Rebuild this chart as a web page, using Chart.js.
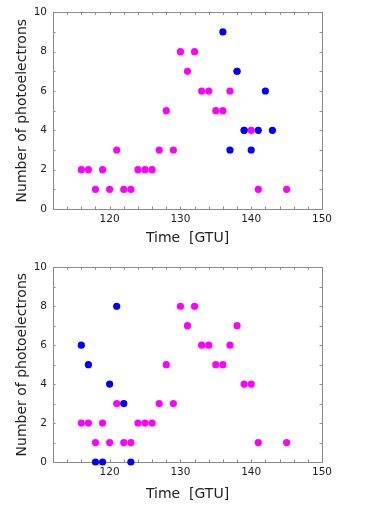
<!DOCTYPE html>
<html>
<head>
<meta charset="utf-8">
<script src="https://cdn.jsdelivr.net/npm/chart.js@4/dist/chart.umd.min.js"></script>
<style>
  html, body { margin: 0; padding: 0; background: #fff; }
  #wrap { position: relative; width: 371px; height: 519px; }
  canvas { position: absolute; left: 0; }
  #topChart { top: 0; }
  #bottomChart { top: 255px; }
</style>
</head>
<body>
<div id="wrap">
  <canvas id="topChart" width="371" height="255"></canvas>
  <canvas id="bottomChart" width="371" height="264"></canvas>
</div>
<script>
// magenta points, same in both panels
const pinkTime   = [116, 117, 118, 119, 120, 121, 122, 123, 124, 125, 126, 127, 128, 129, 130, 131, 132, 133, 134, 135, 136, 137, 138, 139, 140, 141, 145];
const pinkCounts = [2, 2, 1, 2, 1, 3, 1, 1, 2, 2, 2, 3, 5, 3, 8, 7, 8, 6, 6, 5, 5, 6, 7, 4, 4, 1, 1];

// blue points, upper panel
const blueTopTime   = [136, 137, 138, 139, 140, 141, 142, 143];
const blueTopCounts = [9, 3, 7, 4, 3, 4, 6, 4];

// blue points, lower panel
const blueBottomTime   = [116, 117, 118, 119, 120, 121, 122, 123];
const blueBottomCounts = [6, 5, 0, 0, 4, 8, 3, 0];

// axes
const xRange = [112, 150];
const yRange = [0, 10];
const xTickLabels = [120, 130, 140, 150];
const yTickLabels = [0, 2, 4, 6, 8, 10];
const xMinorTicks = [114, 116, 118, 120, 122, 124, 126, 128, 130, 132, 134, 136, 138, 140, 142, 144, 146, 148];
const yMinorTicks = [1, 2, 3, 4, 5, 6, 7, 8, 9];

const PINK = '#ff00ff';
const BLUE = '#0000ff';
const FRAME = '#8c8c8c';
const TEXT = '#1e1e1e';
const FONT = "'DejaVu Sans', sans-serif";

const toPoints = (xs, ys) => xs.map((t, i) => ({ x: t, y: ys[i] }));

// box around the plot with small inward ticks on all four sides
const framePlugin = {
    id: 'frame',
    beforeDatasetsDraw(chart) {
        const { ctx, chartArea: a, scales: { x, y } } = chart;
        const tl = 2.5;
        ctx.save();
        ctx.strokeStyle = FRAME;
        ctx.lineWidth = 1;
        ctx.beginPath();
        xMinorTicks.forEach(v => {
            const px = Math.round(x.getPixelForValue(v)) + 0.5;
            ctx.moveTo(px, a.bottom); ctx.lineTo(px, a.bottom - tl);
            ctx.moveTo(px, a.top); ctx.lineTo(px, a.top + tl);
        });
        yMinorTicks.forEach(v => {
            const py = Math.round(y.getPixelForValue(v)) + 0.5;
            ctx.moveTo(a.left, py); ctx.lineTo(a.left + tl, py);
            ctx.moveTo(a.right, py); ctx.lineTo(a.right - tl, py);
        });
        ctx.stroke();
        ctx.strokeRect(Math.round(a.left) + 0.5, Math.round(a.top) + 0.5,
                       Math.round(a.width), Math.round(a.height));
        ctx.restore();
    }
};

function makePanel(canvasId, datasets, dims) {
    return new Chart(document.getElementById(canvasId), {
        type: 'scatter',
        data: { datasets },
        plugins: [framePlugin],
        options: {
            responsive: false,
            animation: false,
            layout: { padding: { top: dims.top, right: 49, left: 0, bottom: 0 } },
            plugins: { legend: { display: false }, tooltip: { enabled: false } },
            elements: { point: { radius: 3.6, borderWidth: 0, hoverRadius: 3.6 } },
            scales: {
                x: {
                    type: 'linear',
                    min: xRange[0], max: xRange[1],
                    afterBuildTicks: s => { s.ticks = xTickLabels.map(v => ({ value: v })); },
                    afterFit: s => { s.height = dims.xHeight; },
                    grid: { display: false, drawTicks: false },
                    border: { display: false },
                    ticks: { padding: 4, maxRotation: 0, color: TEXT, font: { family: FONT, size: 10.5 } },
                    title: {
                        display: true, text: 'Time  [GTU]', color: TEXT,
                        font: { family: FONT, size: 14 },
                        padding: { top: 0, bottom: dims.xTitlePad }
                    }
                },
                y: {
                    type: 'linear',
                    min: yRange[0], max: yRange[1],
                    afterBuildTicks: s => { s.ticks = yTickLabels.map(v => ({ value: v })); },
                    afterFit: s => { s.width = 53; },
                    grid: { display: false, drawTicks: false },
                    border: { display: false },
                    ticks: { padding: 6, color: TEXT, font: { family: FONT, size: 10.5 } },
                    title: {
                        display: true, text: 'Number of photoelectrons', color: TEXT,
                        font: { family: FONT, size: 14 },
                        padding: { top: 13.5, bottom: 0 }
                    }
                }
            }
        }
    });
}

// dataset 0 is drawn last, so blue sits on top of magenta
makePanel('topChart', [
    { data: toPoints(blueTopTime, blueTopCounts), backgroundColor: BLUE, clip: false },
    { data: toPoints(pinkTime, pinkCounts), backgroundColor: PINK, clip: false }
], { top: 9, xHeight: 46, xTitlePad: 8.5 });

makePanel('bottomChart', [
    { data: toPoints(blueBottomTime, blueBottomCounts), backgroundColor: BLUE, clip: false },
    { data: toPoints(pinkTime, pinkCounts), backgroundColor: PINK, clip: false }
], { top: 7, xHeight: 57, xTitlePad: 16.5 });
</script>
</body>
</html>
